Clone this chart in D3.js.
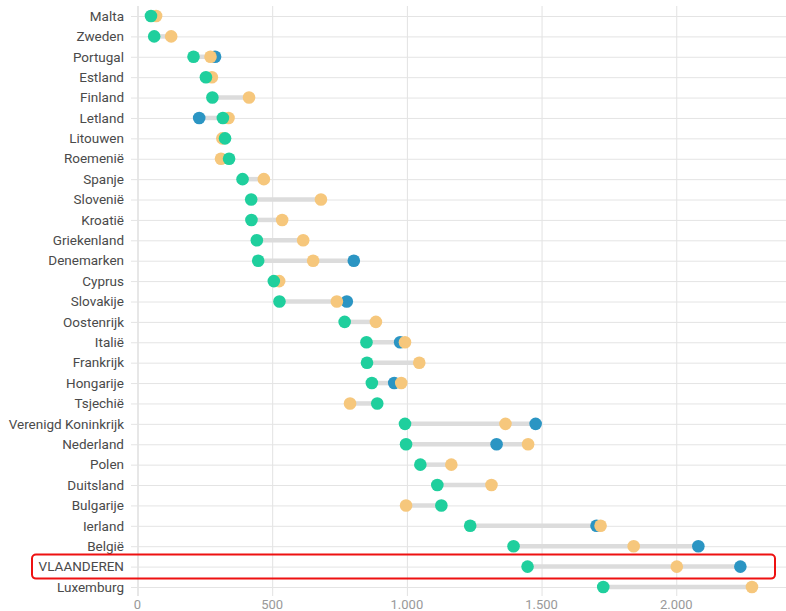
<!DOCTYPE html>
<html>
<head>
<meta charset="utf-8">
<script src="https://cdn.jsdelivr.net/npm/d3@7"></script>
<style>
  body { margin: 0; background: #fff; }
  svg { display: block; }
  .ylab { font-family: Roboto, "Noto Sans", sans-serif; font-size: 13.5px; fill: #4a4a4a; }
  .xlab { font-family: Roboto, "Noto Sans", sans-serif; font-size: 13px; fill: #999; }
</style>
</head>
<body>
<div id="chart-area"></div>
<script>
// Countries, top to bottom
var countries = ["Malta", "Zweden", "Portugal", "Estland", "Finland", "Letland", "Litouwen",
  "Roemenië", "Spanje", "Slovenië", "Kroatië", "Griekenland", "Denemarken", "Cyprus",
  "Slovakije", "Oostenrijk", "Italië", "Frankrijk", "Hongarije", "Tsjechië",
  "Verenigd Koninkrijk", "Nederland", "Polen", "Duitsland", "Bulgarije", "Ierland",
  "België", "VLAANDEREN", "Luxemburg"];

// Green series
var greenValues = [50, 62, 208, 254, 278, 317, 325, 340, 390, 422, 423, 443, 448, 506,
  527, 769, 850, 852, 870, 890, 993, 997, 1050, 1113, 1128, 1235, 1396, 1448, 1729];

// Yellow series
var yellowValues = [69, 125, 271, 276, 414, 338, 315, 310, 469, 681, 537, 615, 652, 526,
  740, 885, 993, 1046, 979, 789, 1366, 1450, 1165, 1314, 997, 1719, 1842, 2002, 2281];

// Blue series (null where not shown)
var blueValues = [null, null, 288, null, null, 229, null, null, null, null, null, null, 803, null,
  777, null, 975, null, 953, null, 1478, 1333, null, null, null, 1704, 2082, 2238, null];

var xTicks = [0, 500, 1000, 1500, 2000];
var highlight = "VLAANDEREN";

var W = 786, H = 611;
var svg = d3.select("#chart-area").append("svg")
    .attr("width", W).attr("height", H);

var x = d3.scaleLinear().domain([0, 2400]).range([137.5, 784]);
var y = d3.scalePoint().domain(countries).range([16, 587]);

var nl = d3.formatLocale({decimal: ",", thousands: ".", grouping: [3], currency: ["€", ""]});
var fmt = nl.format(",");

// Vertical grid lines
svg.append("g").selectAll("line")
    .data(xTicks)
    .join("line")
    .attr("x1", d => x(d) + 0.5).attr("x2", d => x(d) + 0.5)
    .attr("y1", 6).attr("y2", 596)
    .attr("stroke", d => d === 0 ? "#cfcfcf" : "#e2e2e2")
    .attr("stroke-width", 1);

// Horizontal row lines (start slightly left of the axis, like ticks)
svg.append("g").selectAll("line")
    .data(countries)
    .join("line")
    .attr("x1", 131).attr("x2", W)
    .attr("y1", d => y(d) + 0.5).attr("y2", d => y(d) + 0.5)
    .attr("stroke", "#e4e4e4");

// Y labels
svg.append("g").selectAll("text")
    .data(countries)
    .join("text")
    .attr("class", "ylab")
    .attr("x", 124)
    .attr("y", d => y(d))
    .attr("dy", "0.35em")
    .attr("text-anchor", "end")
    .text(d => d);

// X labels
svg.append("g").selectAll("text")
    .data(xTicks)
    .join("text")
    .attr("class", "xlab")
    .attr("x", d => x(d))
    .attr("y", 609)
    .attr("text-anchor", "middle")
    .text(d => fmt(d));

var rows = countries.map(function(c, i) {
    var vals = [greenValues[i], yellowValues[i], blueValues[i]].filter(v => v != null);
    return {country: c, green: greenValues[i], yellow: yellowValues[i], blue: blueValues[i],
            min: d3.min(vals), max: d3.max(vals)};
});

// Connecting bars
svg.append("g").selectAll("line")
    .data(rows)
    .join("line")
    .attr("x1", d => x(d.min)).attr("x2", d => x(d.max))
    .attr("y1", d => y(d.country)).attr("y2", d => y(d.country))
    .attr("stroke", "#dcdcdc")
    .attr("stroke-width", 4.5);

var r = 6.3;
// Blue first, then yellow, green on top
svg.append("g").selectAll("circle")
    .data(rows.filter(d => d.blue != null))
    .join("circle")
    .attr("cx", d => x(d.blue)).attr("cy", d => y(d.country))
    .attr("r", r).attr("fill", "#2b95c3");

svg.append("g").selectAll("circle")
    .data(rows)
    .join("circle")
    .attr("cx", d => x(d.yellow)).attr("cy", d => y(d.country))
    .attr("r", r).attr("fill", "#f6c77c");

svg.append("g").selectAll("circle")
    .data(rows)
    .join("circle")
    .attr("cx", d => x(d.green)).attr("cy", d => y(d.country))
    .attr("r", r).attr("fill", "#1fcf9d");

// Highlight box around Vlaanderen
svg.append("rect")
    .attr("x", 32).attr("y", y(highlight) - 12)
    .attr("width", 743).attr("height", 24)
    .attr("rx", 4)
    .attr("fill", "none")
    .attr("stroke", "#ee1111")
    .attr("stroke-width", 2);
</script>
</body>
</html>
